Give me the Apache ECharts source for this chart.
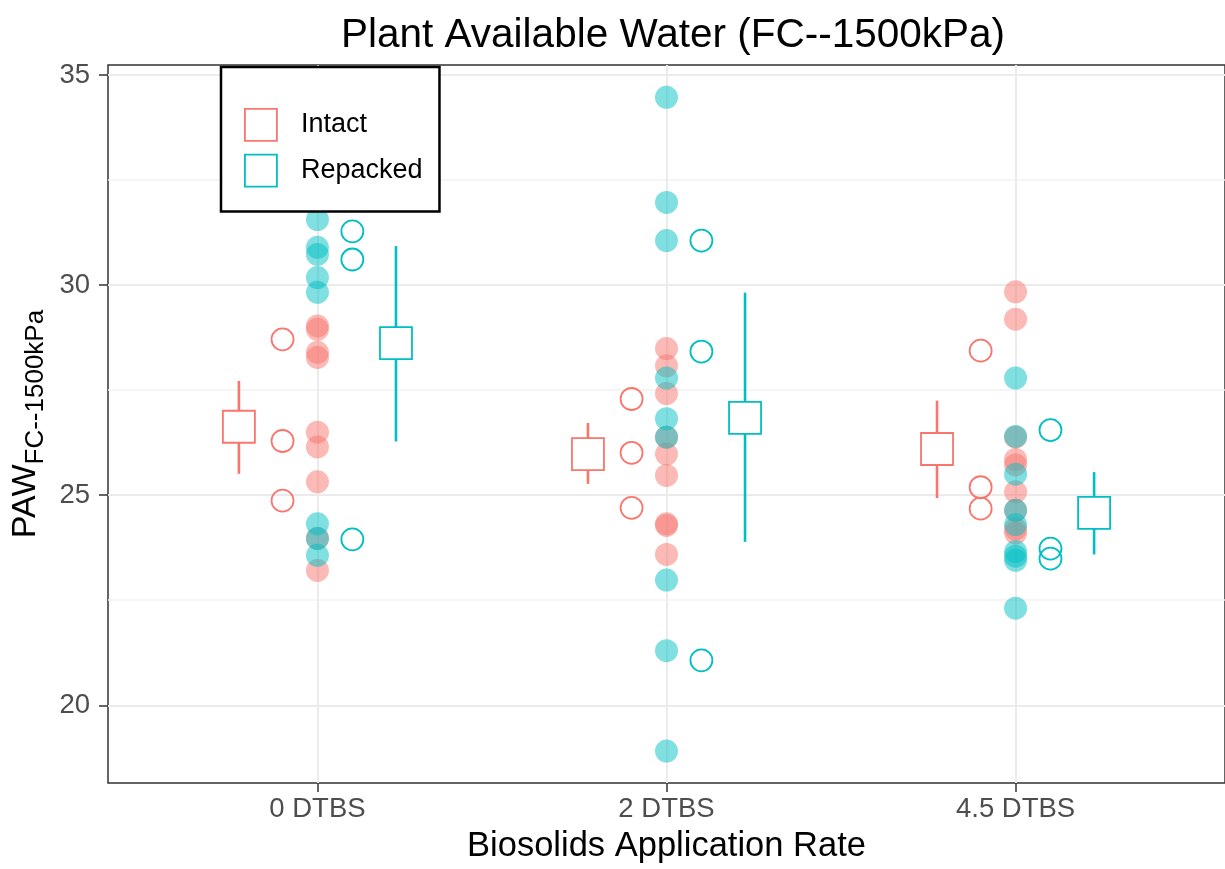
<!DOCTYPE html>
<html lang="en">
<head>
    <meta charset="UTF-8">
    <title>Plant Available Water</title>
    <style>
        body {
            margin: 0;
            background-color: #fff;
        }

        #chart {
            width: 1225px;
            height: 869px;
        }
    </style>
</head>
<body>

    <div id="chart"></div>

    <script src="https://cdn.jsdelivr.net/npm/echarts@6/dist/echarts.min.js"></script>
    <script>

        // categories on the x axis
        const categories = ['0 DTBS', '2 DTBS', '4.5 DTBS'];
        const yTicks = [20, 25, 30, 35];
        const yMinorTicks = [22.5, 27.5, 32.5];

        // Intact: single measurements per category
        const intactPoints = [
            [29.03, 28.95, 28.4, 28.28, 26.5, 26.15, 25.32, 23.97, 23.21],
            [28.49, 28.08, 27.42, 26.38, 25.98, 25.47, 24.32, 24.28, 23.59],
            [29.84, 29.19, 26.38, 25.85, 25.72, 25.08, 24.64, 24.2, 24.1],
        ];
        // Intact: replicate means (open circles)
        const intactReps = [
            [28.71, 26.29, 24.87],
            [27.29, 26.01, 24.7],
            [28.44, 25.19, 24.68],
        ];
        // Intact: mean and error range
        const intactMean = [26.63, 25.98, 26.1];
        const intactLow = [25.51, 25.27, 24.93];
        const intactHigh = [27.72, 26.72, 27.25];

        // Repacked
        const repackedPoints = [
            [32.5, 31.56, 30.9, 30.73, 30.18, 29.83, 24.32, 23.97, 23.57],
            [34.47, 31.97, 31.06, 27.79, 26.82, 26.38, 22.98, 21.3, 18.91],
            [27.79, 26.4, 25.5, 24.64, 24.3, 23.66, 23.55, 23.45, 22.31],
        ];
        const repackedReps = [
            [31.28, 30.61, 23.95],
            [31.06, 28.42, 21.07],
            [26.55, 23.73, 23.49],
        ];
        const repackedMean = [28.62, 26.84, 24.58];
        const repackedLow = [26.28, 23.89, 23.59];
        const repackedHigh = [30.93, 29.82, 25.55];

        const RED = '#F8766D';
        const TEAL = '#00BFC4';

        const chart = echarts.init(document.getElementById('chart'));

        function groupSeries(name, color, points, reps, mean, low, high, side) {
            return [
                {
                    name: name,
                    type: 'scatter',
                    symbolSize: 23,
                    itemStyle: { color: color, opacity: 0.5 },
                    data: points.flatMap((vals, i) => vals.map(v => [i, v])),
                    z: 2,
                },
                {
                    name: name,
                    type: 'scatter',
                    symbolSize: 22,
                    itemStyle: { color: 'rgba(0,0,0,0)', borderColor: color, borderWidth: 1.8, opacity: 1 },
                    data: reps.flatMap((vals, i) => vals.map(v => [i + side * 0.1, v])),
                    z: 3,
                },
                {
                    name: name,
                    type: 'custom',
                    renderItem: (params, api) => {
                        const x = api.value(0);
                        const a = api.coord([x, api.value(1)]);
                        const b = api.coord([x, api.value(2)]);
                        return {
                            type: 'line',
                            shape: { x1: a[0], y1: a[1], x2: b[0], y2: b[1] },
                            style: { stroke: color, lineWidth: 2.6 },
                        };
                    },
                    encode: { x: 0, y: [1, 2] },
                    data: low.map((v, i) => [i + side * 0.225, v, high[i]]),
                    z: 4,
                },
                {
                    name: name,
                    type: 'scatter',
                    symbol: 'rect',
                    symbolSize: 32,
                    itemStyle: { color: '#fff', borderColor: color, borderWidth: 1.8, opacity: 1 },
                    data: mean.map((v, i) => [i + side * 0.225, v]),
                    z: 5,
                },
            ];
        }

        const option = {
            backgroundColor: '#fff',
            animation: false,
            textStyle: { fontFamily: 'Liberation Sans, Arial, sans-serif' },
            title: {
                text: 'Plant Available Water (FC--1500kPa)',
                left: 668,
                textAlign: 'center',
                top: 10,
                textStyle: { fontSize: 40.5, fontWeight: 'normal', color: '#000' },
            },
            legend: {
                orient: 'vertical',
                left: 221,
                top: 67,
                padding: [41, 17, 24, 23],
                itemWidth: 32,
                itemHeight: 32,
                itemGap: 12,
                borderColor: '#000',
                borderWidth: 2.5,
                backgroundColor: '#fff',
                textStyle: { fontSize: 27, color: '#000', padding: [0, 0, 0, 19] },
                data: [
                    { name: 'Intact', icon: 'rect', itemStyle: { color: '#fff', borderColor: RED, borderWidth: 1.8, opacity: 1 } },
                    { name: 'Repacked', icon: 'rect', itemStyle: { color: '#fff', borderColor: TEAL, borderWidth: 1.8, opacity: 1 } },
                ],
                selectedMode: false,
            },
            grid: {
                left: 108,
                right: 0,
                top: 65,
                bottom: 84,
                show: true,
                borderColor: '#333',
                borderWidth: 1.5,
            },
            xAxis: {
                type: 'value',
                min: -0.6,
                max: 2.6,
                name: 'Biosolids Application Rate',
                nameLocation: 'middle',
                nameGap: 46,
                nameTextStyle: { fontSize: 34.5, color: '#000' },
                axisLine: { show: false, onZero: false },
                axisTick: { show: true, customValues: [0, 1, 2], length: 9, lineStyle: { color: '#333', width: 1.5 } },
                axisLabel: {
                    customValues: [0, 1, 2],
                    formatter: v => categories[Math.round(v)],
                    fontSize: 27.5,
                    color: '#4D4D4D',
                    margin: 12,
                },
                splitLine: { show: true, lineStyle: { color: '#EBEBEB', width: 2 } },
            },
            yAxis: [
                {
                    type: 'value',
                    min: 18.15,
                    max: 35.24,
                    name: '{a|PAW}{b|FC--1500kPa}',
                    nameLocation: 'middle',
                    nameRotate: 90,
                    nameGap: 62,
                    nameTextStyle: {
                        rich: {
                            a: { fontSize: 34, color: '#000', verticalAlign: 'bottom' },
                            b: { fontSize: 26, color: '#000', verticalAlign: 'bottom', padding: [0, 0, -6, 0] },
                        },
                    },
                    axisLine: { show: false, onZero: false },
                    axisTick: { show: true, customValues: yTicks, length: 9, lineStyle: { color: '#333', width: 1.5 } },
                    axisLabel: { customValues: yTicks, fontSize: 27.5, color: '#4D4D4D', margin: 18 },
                    splitLine: { show: true, lineStyle: { color: '#EBEBEB', width: 2 } },
                },
                {
                    type: 'value',
                    min: 18.15,
                    max: 35.24,
                    position: 'left',
                    axisLine: { show: false, onZero: false },
                    axisTick: { show: false, customValues: yMinorTicks },
                    axisLabel: { show: false, customValues: yMinorTicks },
                    splitLine: { show: true, lineStyle: { color: '#F2F2F2', width: 1.5 } },
                },
            ],
            series: [
                ...groupSeries('Intact', RED, intactPoints, intactReps, intactMean, intactLow, intactHigh, -1),
                ...groupSeries('Repacked', TEAL, repackedPoints, repackedReps, repackedMean, repackedLow, repackedHigh, 1),
            ],
        };

        chart.setOption(option);

    </script>
</body>
</html>
